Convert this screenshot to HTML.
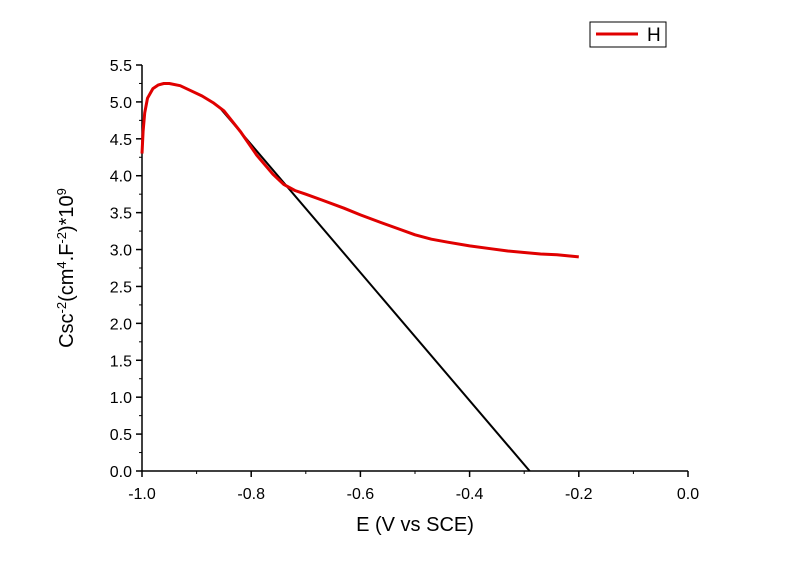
<!DOCTYPE html>
<html><head><meta charset="utf-8"><style>
body{margin:0;background:#fff;}
svg{display:block;font-family:"Liberation Sans",Arial,sans-serif;}
</style></head><body>
<svg id="chart" width="800" height="565">
<g id="axes"></g><g id="series"></g>
<text x="415" y="531" font-size="20" text-anchor="middle">E (V vs SCE)</text>
<text transform="translate(73,268) rotate(-90)" font-size="20" text-anchor="middle">Csc<tspan dy="-7" font-size="13">-2</tspan><tspan dy="7">(cm</tspan><tspan dy="-7" font-size="13">4</tspan><tspan dy="7">.F</tspan><tspan dy="-7" font-size="13">-2</tspan><tspan dy="7">)*10</tspan><tspan dy="-7" font-size="13">9</tspan></text>
<g>
<rect x="590" y="22" width="76" height="25" fill="#fff" stroke="#000" stroke-width="1"/>
<line x1="596" y1="34" x2="638" y2="34" stroke="#e00000" stroke-width="3"/>
<text x="647" y="41" font-size="19">H</text>
</g>
</svg>
<script>
const xTicks=[-1.0,-0.8,-0.6,-0.4,-0.2,0.0];
const yTicks=[0,0.5,1,1.5,2,2.5,3,3.5,4,4.5,5,5.5];
const hX=[-1.0,-0.998,-0.995,-0.99,-0.98,-0.97,-0.96,-0.95,-0.93,-0.91,-0.89,-0.87,-0.85,-0.82,-0.79,-0.76,-0.74,-0.72,-0.7,-0.67,-0.63,-0.6,-0.56,-0.53,-0.5,-0.47,-0.44,-0.4,-0.36,-0.33,-0.3,-0.27,-0.24,-0.2];
const hY=[4.3,4.6,4.85,5.05,5.18,5.23,5.25,5.25,5.22,5.15,5.08,4.99,4.88,4.6,4.28,4.02,3.88,3.8,3.75,3.67,3.56,3.47,3.36,3.28,3.2,3.14,3.1,3.05,3.01,2.98,2.96,2.94,2.93,2.9];
const fitX=[-0.855,-0.29];
const fitY=[4.9,0];
const X0=142,X1=688,Y0=471,Y1=65;
const sx=v=>X0+(v+1)*(X1-X0);
const sy=v=>Y0-v/5.5*(Y0-Y1);
const NS="http://www.w3.org/2000/svg";
const ax=document.getElementById('axes'),se=document.getElementById('series');
function mk(p,t,a){const e=document.createElementNS(NS,t);for(const k in a)e.setAttribute(k,a[k]);p.appendChild(e);return e;}
let xa=mk(ax,'line',{x1:X0,y1:Y0,x2:X1,y2:Y0,stroke:'#000','stroke-width':1.5});


let ya=mk(ax,'line',{x1:X0,y1:Y0,x2:X0,y2:Y1,stroke:'#000','stroke-width':1.5});


for(let i=0;i<xTicks.length;i++){const x=sx(xTicks[i]);
mk(ax,'line',{x1:x,y1:Y0,x2:x,y2:Y0+6,stroke:'#000','stroke-width':1.5});
if(i<xTicks.length-1){const m=sx(xTicks[i]+0.1);mk(ax,'line',{x1:m,y1:Y0,x2:m,y2:Y0+3,stroke:'#000','stroke-width':1});}
const t=mk(ax,'text',{x:x,y:Y0+28,'font-size':16,'text-anchor':'middle'});t.textContent=xTicks[i].toFixed(1);

}
for(let i=0;i<yTicks.length;i++){const y=sy(yTicks[i]);
mk(ax,'line',{x1:X0-6,y1:y,x2:X0,y2:y,stroke:'#000','stroke-width':1.5});
if(i<yTicks.length-1){const m=sy(yTicks[i]+0.25);mk(ax,'line',{x1:X0-3,y1:m,x2:X0,y2:m,stroke:'#000','stroke-width':1});}
const t=mk(ax,'text',{x:X0-10,y:y+6,'font-size':16,'text-anchor':'end'});t.textContent=yTicks[i].toFixed(1);

}
let fl=mk(se,'line',{x1:sx(fitX[0]),y1:sy(fitY[0]),x2:sx(fitX[1]),y2:sy(fitY[1]),stroke:'#000','stroke-width':2});


let d=hX.map((v,i)=>(i?'L':'M')+sx(v).toFixed(1)+','+sy(hY[i]).toFixed(1)).join(' ');
let hp=mk(se,'path',{d:d,fill:'none',stroke:'#e00000','stroke-width':3,'stroke-linejoin':'round'});


</script>
</body></html>
